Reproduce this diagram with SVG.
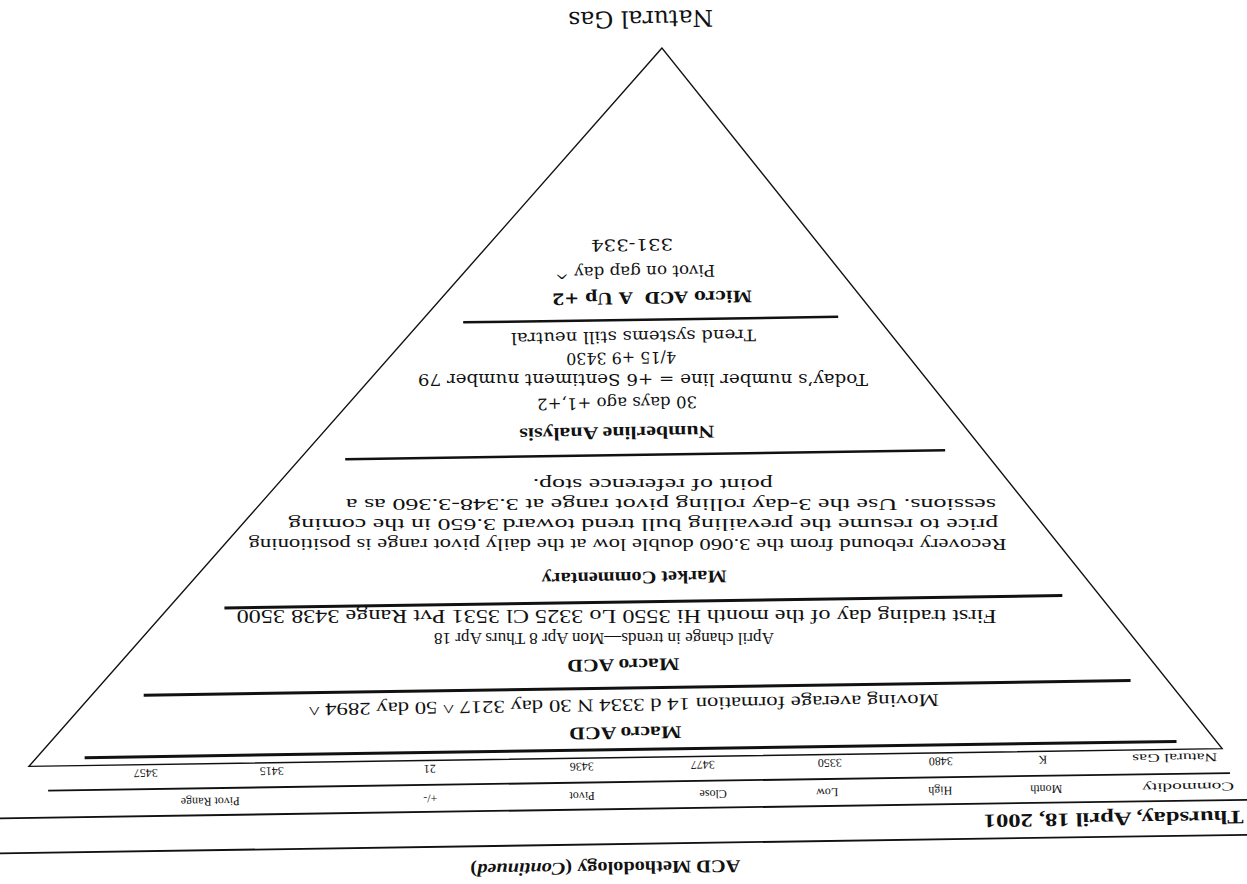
<svg xmlns="http://www.w3.org/2000/svg" width="1247" height="884" viewBox="0 0 1247 884">
<style>
.s{font-family:"Liberation Serif","Times New Roman",serif;fill:#111}
.w{font-family:"DejaVu Serif","Liberation Serif",serif;fill:#111}
.b{font-weight:bold}
.c{text-anchor:middle;dominant-baseline:central}
.l{dominant-baseline:central}
.t{font-size:18px}
.p{font-size:17px}
.n{font-size:16px}
.sm{font-size:12px}
.ln{stroke:#111;fill:none}
</style>
<rect width="1247" height="884" fill="#fff"/>
<g id="page" transform="rotate(179.15 623.5 442)">
  <g id="frame">
    <polygon class="ln" stroke-width="1.4" points="579.2,835.4 1222.8,126.5 29.5,126.5"/>
    <line class="ln" stroke-width="3" x1="75" y1="134.4" x2="1167" y2="134.4"/>
    <line class="ln" stroke-width="1.8" x1="22" y1="102" x2="1204" y2="102"/>
    <line class="ln" stroke-width="1.8" x1="-15" y1="75" x2="1260" y2="75"/>
    <line class="ln" stroke-width="1.8" x1="-15" y1="40" x2="1260" y2="40"/>
    <line class="ln" stroke-width="3" x1="120" y1="196" x2="1107" y2="196"/>
    <line class="ln" stroke-width="3" x1="187" y1="282" x2="1025" y2="282"/>
    <line class="ln" stroke-width="2.5" x1="302" y1="429" x2="902" y2="429"/>
    <line class="ln" stroke-width="2.5" x1="407" y1="564" x2="782" y2="564"/>
  </g>
  <g id="title">
    <text class="w c" style="font-size:23px" x="600" y="864.6" textLength="145" lengthAdjust="spacingAndGlyphs">Natural Gas</text>
  </g>
  <g id="micro">
    <text class="w c b n" x="592.9" y="586" textLength="200" lengthAdjust="spacingAndGlyphs" xml:space="preserve">Micro ACD  A Up +2</text>
    <text class="w c n" x="609.5" y="612" textLength="160" lengthAdjust="spacingAndGlyphs">Pivot on gap day ^</text>
    <text class="w c n" x="612" y="639" textLength="82" lengthAdjust="spacingAndGlyphs">331-334</text>
  </g>
  <g id="numberline">
    <text class="s c b t" x="630" y="451" textLength="195" lengthAdjust="spacingAndGlyphs">Numberline Analysis</text>
    <text class="w c n" x="629.4" y="481" textLength="160" lengthAdjust="spacingAndGlyphs">30 days ago +1,+2</text>
    <g transform="rotate(0.85 603.1 504)"><text class="w c n" x="603.1" y="504" textLength="450" lengthAdjust="spacingAndGlyphs">Today’s number line = +6 Sentiment number 79</text></g>
    <text class="w c n" x="624.7" y="526" textLength="110" lengthAdjust="spacingAndGlyphs">4/15 +9 3430</text>
    <text class="w c n" x="612" y="547" textLength="245" lengthAdjust="spacingAndGlyphs">Trend systems still neutral</text>
  </g>
  <g id="commentary">
    <text class="s c b t" x="615" y="306" textLength="185" lengthAdjust="spacingAndGlyphs">Market Commentary</text>
    <g transform="rotate(0.85 621 339)"><text class="s l p" x="242" y="339" textLength="758" lengthAdjust="spacingAndGlyphs">Recovery rebound from the 3.060 double low at the daily pivot range is positioning</text></g>
    <g transform="rotate(0.85 605 359)"><text class="s l p" x="250" y="359" textLength="710" lengthAdjust="spacingAndGlyphs">price to resume the prevailing bull trend toward 3.650 in the coming</text></g>
    <g transform="rotate(0.85 577 379)"><text class="s l p" x="252" y="379" textLength="650" lengthAdjust="spacingAndGlyphs">sessions. Use the 3-day rolling pivot range at 3.348-3.360 as a</text></g>
    <g transform="rotate(0.85 595 399)"><text class="s l p" x="475" y="399" textLength="240" lengthAdjust="spacingAndGlyphs">point of reference stop.</text></g>
  </g>
  <g id="macro-upper">
    <text class="s c b t" x="627" y="219" textLength="112" lengthAdjust="spacingAndGlyphs">Macro ACD</text>
    <g transform="rotate(0.85 646 246)"><text class="s c p" x="646" y="246" textLength="340" lengthAdjust="spacingAndGlyphs">April change in trends—Mon Apr 8 Thurs Apr 18</text></g>
    <g transform="rotate(0.85 633 268)"><text class="s c t" x="633" y="268" textLength="760" lengthAdjust="spacingAndGlyphs">First trading day of the month Hi 3550 Lo 3325 Cl 3531 Pvt Range 3438 3500</text></g>
  </g>
  <g id="macro-lower">
    <text class="s c b t" x="626" y="151" textLength="112" lengthAdjust="spacingAndGlyphs">Macro ACD</text>
    <text class="s c t" x="627" y="179" textLength="630" lengthAdjust="spacingAndGlyphs">Moving average formation 14 d 3334 N 30 day 3217 ^ 50 day 2894 ^</text>
  </g>
  <g id="table">
    <text class="s c sm" x="77" y="118" textLength="85" lengthAdjust="spacingAndGlyphs">Natural Gas</text>
    <text class="s c sm" x="209" y="118">K</text>
    <text class="s c sm" x="311" y="118">3480</text>
    <text class="s c sm" x="422" y="118">3350</text>
    <text class="s c sm" x="549" y="118">3477</text>
    <text class="s c sm" x="670" y="118">3436</text>
    <text class="s c sm" x="822" y="118">21</text>
    <text class="s c sm" x="980" y="118">3415</text>
    <text class="s c sm" x="1106" y="118">3457</text>
    <text class="s c sm" x="64" y="88.5" textLength="92" lengthAdjust="spacingAndGlyphs">Commodity</text>
    <text class="s c sm" x="206" y="88.5">Month</text>
    <text class="s c sm" x="312" y="88.5">High</text>
    <text class="s c sm" x="425" y="88.5">Low</text>
    <text class="s c sm" x="539" y="88.5">Close</text>
    <text class="s c sm" x="670" y="88.5">Pivot</text>
    <text class="s c sm" x="822" y="88.5">+/-</text>
    <text class="s c sm" x="1042" y="88.5">Pivot Range</text>
    <text class="s l b" style="font-size:19px" x="9" y="57.5" textLength="260" lengthAdjust="spacingAndGlyphs">Thursday, April 18, 2001</text>
    <text class="s c b t" x="648" y="16.2" textLength="270" lengthAdjust="spacingAndGlyphs">ACD Methodology (<tspan font-style="italic">Continued</tspan>)</text>
  </g>
</g>
</svg>
